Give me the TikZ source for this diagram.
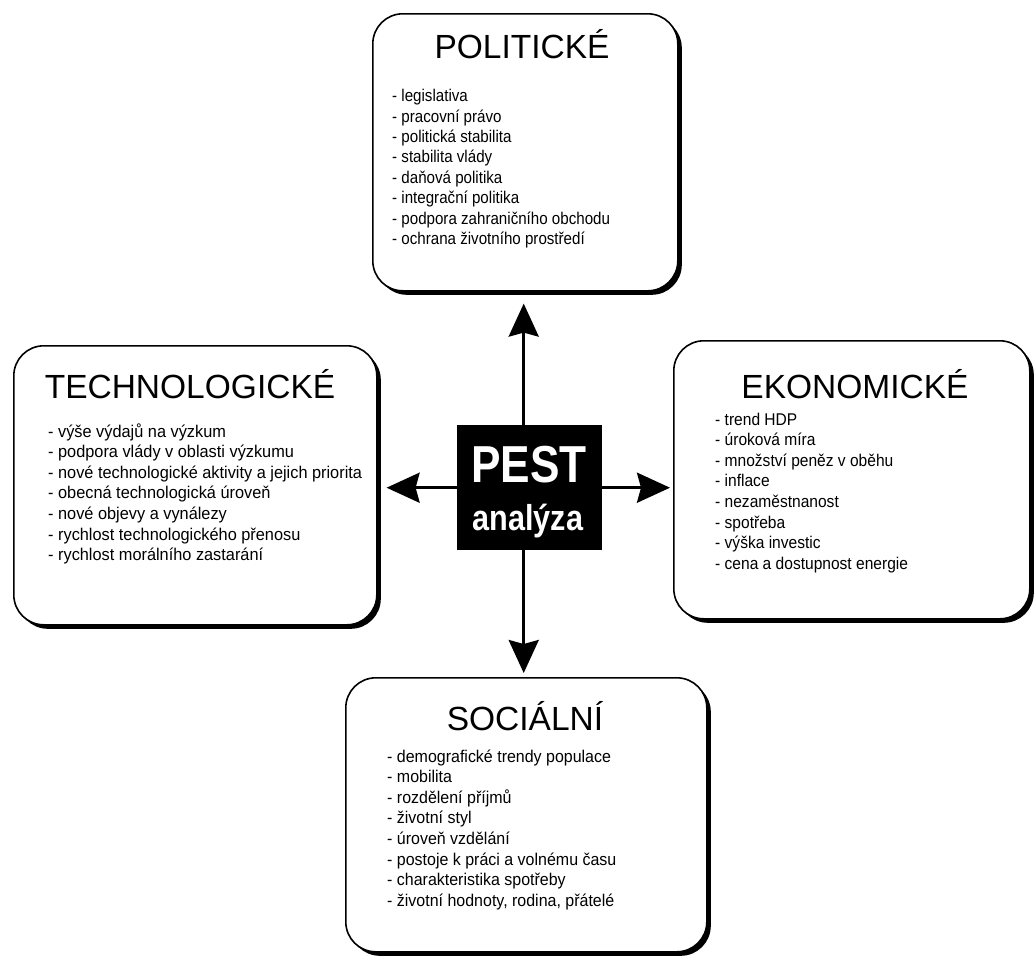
\documentclass[tikz,border=0pt]{standalone}
\usepackage{fontspec}
\setmainfont{Liberation Sans}
\newfontfamily\narrowfont[FakeStretch=0.85]{Liberation Sans}
\newfontfamily\listfontP[FakeStretch=0.89]{Liberation Sans}
\newfontfamily\listfontT[FakeStretch=0.96]{Liberation Sans}
\newfontfamily\listfontE[FakeStretch=0.915]{Liberation Sans}
\newfontfamily\listfontS[FakeStretch=0.94]{Liberation Sans}
\usetikzlibrary{arrows.meta,shadows}
\begin{document}
\begin{tikzpicture}[x=1pt,y=-1pt,
  pbox/.style={draw=black, line width=1.6pt, fill=white, rounded corners=30pt,
    inner sep=0pt, anchor=north west,
    drop shadow={shadow xshift=4pt, shadow yshift=-4pt, fill=black, opacity=1}},
  ttl/.style={font=\fontsize{33.5}{40}\selectfont, anchor=base, inner sep=0pt},
  lst/.style={align=left, anchor=base west, inner sep=0pt},
  arr/.style={line width=3pt, -{Stealth[length=33pt,width=30pt,inset=4pt]}},
  pesttxt/.style={text=white, inner sep=0pt, anchor=base}
]
\useasboundingbox (0,0) rectangle (1035,956);

% boxes
\node[pbox, minimum width=305pt, minimum height=277pt] (pol) at (372,13) {};
\node[pbox, minimum width=363pt, minimum height=279pt] (tech) at (13,345) {};
\node[pbox, minimum width=356pt, minimum height=278pt] (eko) at (673,340) {};
\node[pbox, minimum width=361pt, minimum height=274pt] (soc) at (345,677) {};

% center box
\node[fill=black, minimum width=145pt, minimum height=125pt, inner sep=0pt, anchor=north west] (pest) at (457,425) {};
\node[pesttxt, font=\narrowfont\bfseries\fontsize{52}{60}\selectfont] (pestA) at (529,482) {PEST};
\node[pesttxt, font=\narrowfont\bfseries\fontsize{36}{42}\selectfont] (pestB) at (528,530) {analýza};

% titles
\node[ttl] (polT) at (522,58) {POLITICKÉ};
\node[ttl] (techT) at (190,398) {TECHNOLOGICKÉ};
\node[ttl] (ekoT) at (855,398) {EKONOMICKÉ};
\node[ttl] (socT) at (525,730) {SOCIÁLNÍ};

% lists (anchor = baseline of last line)
\node[lst, font=\listfontP\fontsize{17}{20.4}\selectfont] (polL) at (392,244.5) {- legislativa\\- pracovní právo\\- politická stabilita\\- stabilita vlády\\- daňová politika\\- integrační politika\\- podpora zahraničního obchodu\\- ochrana životního prostředí};
\node[lst, font=\listfontT\fontsize{17}{20.6}\selectfont] (techL) at (48,560.6) {- výše výdajů na výzkum\\- podpora vlády v oblasti výzkumu\\- nové technologické aktivity a jejich priorita\\- obecná technologická úroveň\\- nové objevy a vynálezy\\- rychlost technologického přenosu\\- rychlost morálního zastarání};
\node[lst, font=\listfontE\fontsize{17}{20.6}\selectfont] (ekoL) at (715,569.2) {- trend HDP\\- úroková míra\\- množství peněz v oběhu\\- inflace\\- nezaměstnanost\\- spotřeba\\- výška investic\\- cena a dostupnost energie};
\node[lst, font=\listfontS\fontsize{17}{20.6}\selectfont] (socL) at (387,906.2) {- demografické trendy populace\\- mobilita\\- rozdělení příjmů\\- životní styl\\- úroveň vzdělání\\- postoje k práci a volnému času\\- charakteristika spotřeby\\- životní hodnoty, rodina, přátelé};

% arrows
\coordinate (upx) at ([xshift=-6pt]pest.north);
\coordinate (dnx) at ([xshift=-6pt]pest.south);
\draw[arr, shorten >=12pt] (upx) -- (upx |- pol.south);
\draw[arr, shorten >=4pt] (dnx) -- (dnx |- soc.north);
\draw[arr, shorten >=9pt] (pest.west) -- (pest.west -| tech.east);
\draw[arr, shorten >=3pt] (pest.east) -- (pest.east -| eko.west);
\end{tikzpicture}
\end{document}
